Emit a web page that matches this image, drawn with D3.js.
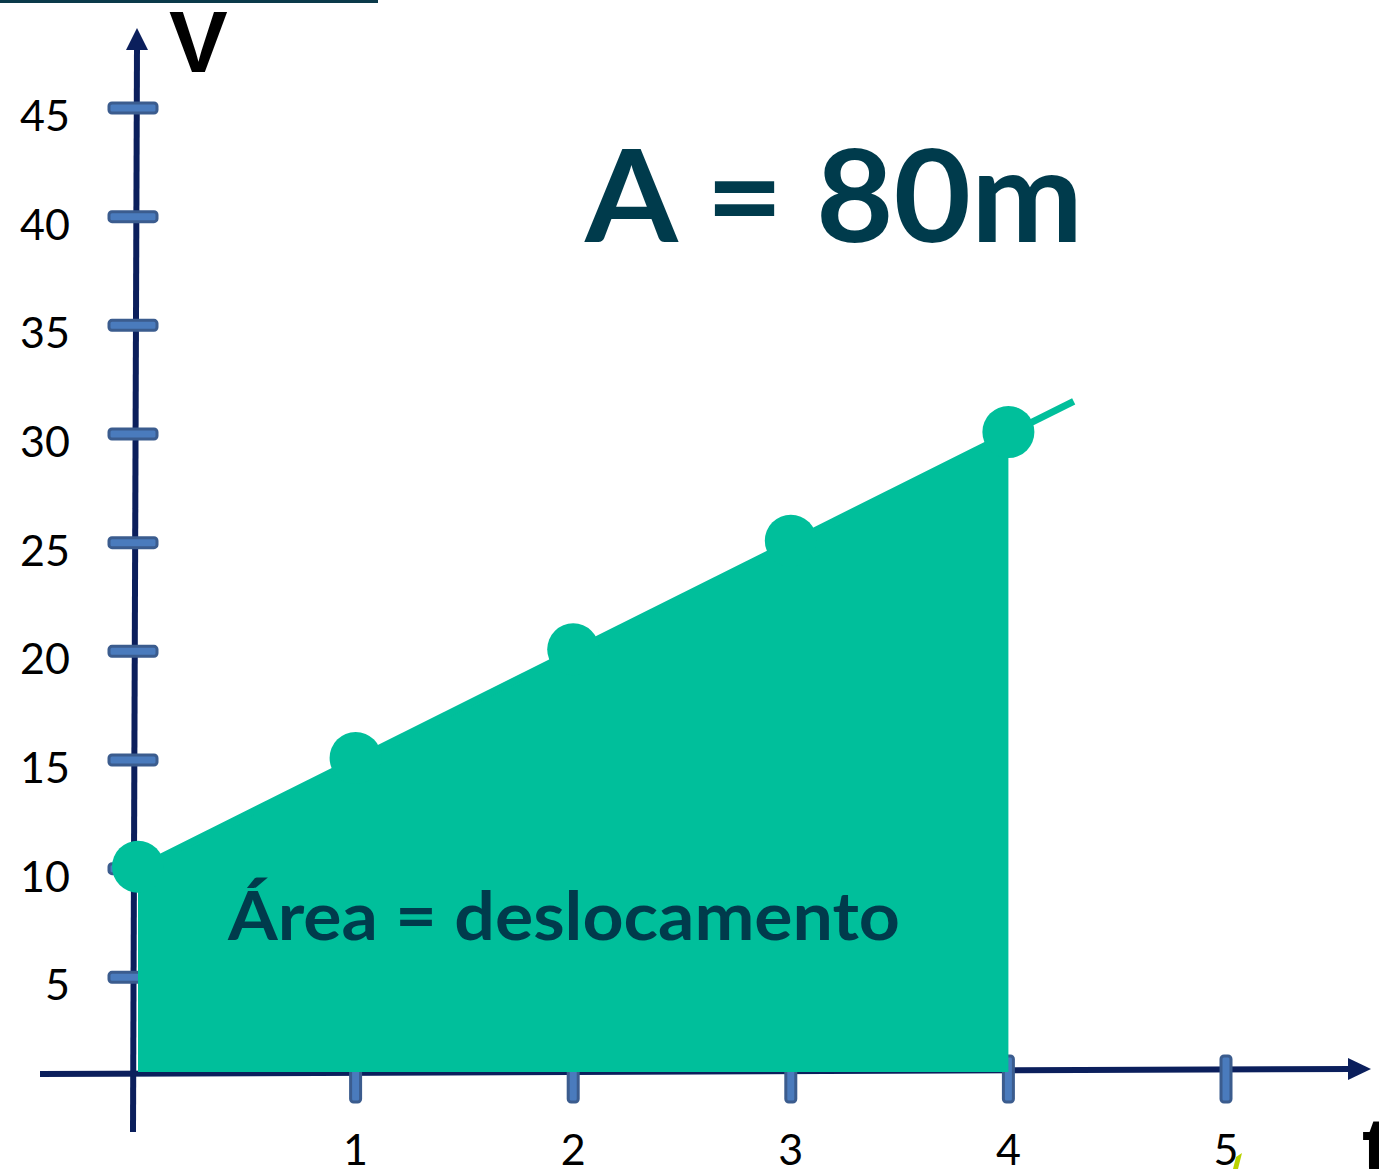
<!DOCTYPE html>
<html>
<head>
<meta charset="utf-8">
<script src="https://cdn.jsdelivr.net/npm/d3@7/dist/d3.min.js"></script>
<style>
  html, body { margin: 0; padding: 0; background: #ffffff; }
  svg { display: block; }
</style>
</head>
<body>
<svg id="chart" width="1379" height="1169"></svg>
<script>
// Velocity (m/s) against time (s) for uniform acceleration
const times = [0, 1, 2, 3, 4];
const speeds = [10, 15, 20, 25, 30];
// where the drawn velocity line stops beyond the last point
const lineEnd = { t: 4.3, v: 31.5 };
const yTicks = [5, 10, 15, 20, 25, 30, 35, 40, 45];
const xTicks = [1, 2, 3, 4, 5];
const areaLabel = "Área = deslocamento";
const resultLabel = "A = 80m";

const svg = d3.select("#chart");

const x = d3.scaleLinear().domain([0, 5]).range([138, 1226]);
const y = d3.scaleLinear().domain([0, 45]).range([1086, 108]);
const axisY = 1072;            // pixel row of the time axis

const navy = "#0b1f5c";
const green = "#00bf9b";
const ink = "#003b4c";
const tickFill = "#4a7bbd";
const tickStroke = "#3b5c8e";

// thin header rule
svg.append("rect").attr("x", 0).attr("y", 0).attr("width", 378).attr("height", 3).attr("fill", "#0b3a4a");

// vertical axis (slightly leaning, as hand-placed)
svg.append("line")
  .attr("x1", x(0) - 5).attr("y1", 1132)
  .attr("x2", x(0) - 1).attr("y2", 46)
  .attr("stroke", navy).attr("stroke-width", 6);
svg.append("path")
  .attr("d", d3.line()([[x(0) - 12, 50], [x(0) - 1, 28], [x(0) + 10, 50]]) + "Z")
  .attr("fill", navy);

// horizontal axis
svg.append("line")
  .attr("x1", 40).attr("y1", axisY + 2)
  .attr("x2", 1352).attr("y2", axisY - 3)
  .attr("stroke", navy).attr("stroke-width", 6);
svg.append("path")
  .attr("d", d3.line()([[1348, axisY - 14], [1371, axisY - 3], [1348, axisY + 8]]) + "Z")
  .attr("fill", navy);

// tick marks on the velocity axis
svg.append("g").selectAll("rect").data(yTicks).join("rect")
  .attr("x", x(0) - 29).attr("y", d => y(d) - 5)
  .attr("width", 48).attr("height", 10).attr("rx", 3)
  .attr("fill", tickFill).attr("stroke", tickStroke).attr("stroke-width", 3);

// tick marks on the time axis
svg.append("g").selectAll("rect").data(xTicks).join("rect")
  .attr("x", d => x(d) - 5).attr("y", axisY - 16)
  .attr("width", 10).attr("height", 46).attr("rx", 3)
  .attr("fill", tickFill).attr("stroke", tickStroke).attr("stroke-width", 3);

// velocity tick labels
svg.append("g").selectAll("text").data(yTicks).join("text")
  .attr("x", 70).attr("y", d => y(d) + 23)
  .attr("text-anchor", "end")
  .attr("font-family", "Lato, 'Open Sans', sans-serif")
  .attr("font-size", 43).attr("fill", "#000")
  .text(d => d);

// time tick labels
svg.append("g").selectAll("text").data(xTicks).join("text")
  .attr("x", d => x(d)).attr("y", 1165)
  .attr("text-anchor", "middle")
  .attr("font-family", "Lato, 'Open Sans', sans-serif")
  .attr("font-size", 43).attr("fill", "#000")
  .text(d => d);

const pts = times.map((t, i) => ({ t, v: speeds[i] }));

// shaded area under the velocity line (displacement)
svg.append("path")
  .datum(pts)
  .attr("d", d3.area().x(d => x(d.t)).y0(axisY).y1(d => y(d.v)))
  .attr("fill", green);

// velocity line, continued past the last point
svg.append("path")
  .datum([pts[0], lineEnd])
  .attr("d", d3.line().x(d => x(d.t)).y(d => y(d.v)))
  .attr("fill", "none").attr("stroke", green).attr("stroke-width", 7);

// data points
svg.append("g").selectAll("circle").data(pts).join("circle")
  .attr("cx", d => x(d.t)).attr("cy", d => y(d.v) - 2)
  .attr("r", 26).attr("fill", green);

// axis names
svg.append("text").attr("x", 169).attr("y", 72)
  .attr("font-family", "'Liberation Sans', Arial, sans-serif").attr("font-weight", "bold")
  .attr("font-size", 88).attr("fill", "#000").text("V");
svg.append("text").attr("x", 1362).attr("y", 1178)
  .attr("font-family", "'Liberation Sans', Arial, sans-serif").attr("font-weight", "bold")
  .attr("font-size", 88).attr("fill", "#000").text("t");

// small stray accent near the last time tick
svg.append("path")
  .attr("d", "M1233,1169 L1236,1157 L1242,1153 L1238,1169 Z")
  .attr("fill", "#b8d200");

// annotations
svg.append("text").attr("x", 585).attr("y", 242)
  .attr("font-family", "Lato, 'Open Sans', sans-serif").attr("font-weight", "bold")
  .attr("font-size", 128).attr("fill", ink)
  .attr("textLength", 498).attr("lengthAdjust", "spacingAndGlyphs")
  .text(resultLabel);

svg.append("text").attr("x", 228).attr("y", 940)
  .attr("font-family", "Lato, 'Open Sans', sans-serif").attr("font-weight", "bold")
  .attr("font-size", 66).attr("fill", ink)
  .attr("textLength", 672).attr("lengthAdjust", "spacingAndGlyphs")
  .text(areaLabel);
</script>
</body>
</html>
